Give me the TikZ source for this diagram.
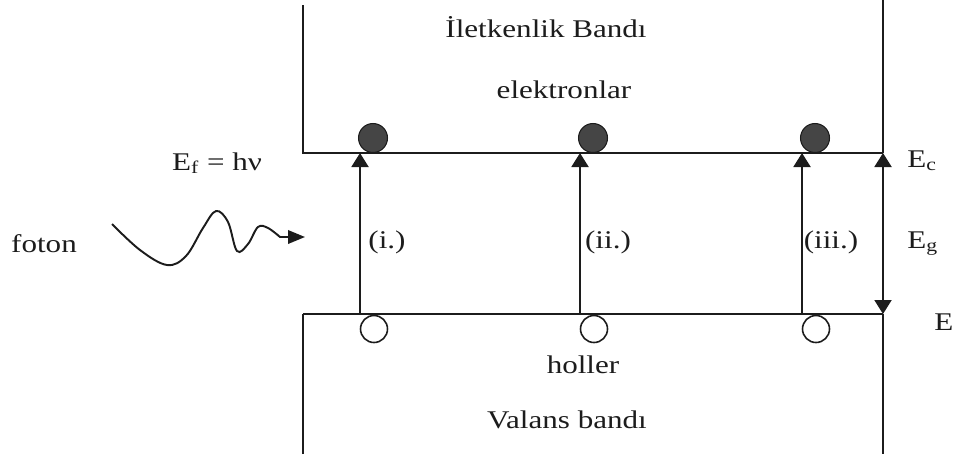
\documentclass[tikz,border=0pt]{standalone}
\usepackage{fontspec}
\setmainfont{Liberation Serif}
\usetikzlibrary{arrows.meta, positioning}
\definecolor{ink}{HTML}{1C1C1C}
\definecolor{carrier}{HTML}{454545}
\newcommand{\wtext}[1]{\scalebox{1.22}[1]{#1}}
\tikzset{
  >={Triangle[length=2.8mm,width=3.4mm]},
  font=\fontsize{14.5}{17}\selectfont,
  band/.style={line width=1.1pt, draw=ink},
  trans/.style={->, line width=1.1pt, draw=ink},
  wave/.style={-{Triangle[length=3.4mm,width=2.7mm]}, line width=1.1pt, draw=ink},
  electron/.style={circle, fill=carrier, draw=ink, line width=0.6pt,
    minimum size=0.58cm, inner sep=0pt},
  hole/.style={circle, fill=white, draw=ink, line width=0.9pt,
    minimum size=0.54cm, inner sep=0pt},
  lbl/.style={inner sep=0pt, anchor=base, text=ink}
}
\begin{document}
\begin{tikzpicture}[x=0.02cm, y=-0.02cm]
  \useasboundingbox (0,0) rectangle (956,454);
  % band edges
  \coordinate (cl) at (303,153);
  \coordinate (cr) at (883,153);
  \coordinate (vl) at (303,314);
  \coordinate (vr) at (883,314);
  \draw[band] (303,5) -- (cl) -- (cr);
  \draw[band] (vl) -- (vr);
  \draw[band] (303,454) -- (vl);
  \draw[band] (883,0) -- (cr);
  \draw[band] (vr) -- (883,454);
  \node[lbl] (cband) at (546,37) {\wtext{İletkenlik Bandı}};
  \node[lbl] (elec) at (564,98) {\wtext{elektronlar}};
  \node[lbl] (hol) at (583,373) {\wtext{holler}};
  \node[lbl] (vband) at (567,428) {\wtext{Valans bandı}};
  % transitions
  \foreach \x/\n in {360/1, 580/2, 802/3} {
    \coordinate (v\n) at (\x,314);
    \coordinate (c\n) at (\x,153);
    \draw[trans] (v\n) -- (c\n);
    \node[electron] (e\n) at (\x+13,138) {};
    \node[hole] (h\n) at (\x+14,329) {};
  }
  \node[lbl] (t1) at (387,248) {\wtext{(i.)}};
  \node[lbl] (t2) at (608,248) {\wtext{(ii.)}};
  \node[lbl] (t3) at (831,248) {\wtext{(iii.)}};
  % gap
  \draw[trans, <->] (vr) -- (cr);
  \node[lbl, anchor=base west] (ec) at (907,167) {\wtext{E\textsubscript{c}}};
  \node[lbl, anchor=base west] (eg) at (907,248) {\wtext{E\textsubscript{g}}};
  \node[lbl, anchor=base west] (ev) at (934,330) {\wtext{E}};
  % photon
  \node[lbl] (foton) at (44,252) {\wtext{foton}};
  \node[lbl] (ef) at (217,170) {\wtext{E\textsubscript{f} = hν}};
  \coordinate (ws) at (112,224);
  \coordinate (wt) at (305,237);
  \draw[wave] plot[smooth, tension=0.6] coordinates {(ws) (140,250) (167,265)
    (186,256) (203,228) (216,211) (228,222) (237,251) (248,244) (258,227)
    (268,228) (280,237)} -- (wt);
\end{tikzpicture}
\end{document}
